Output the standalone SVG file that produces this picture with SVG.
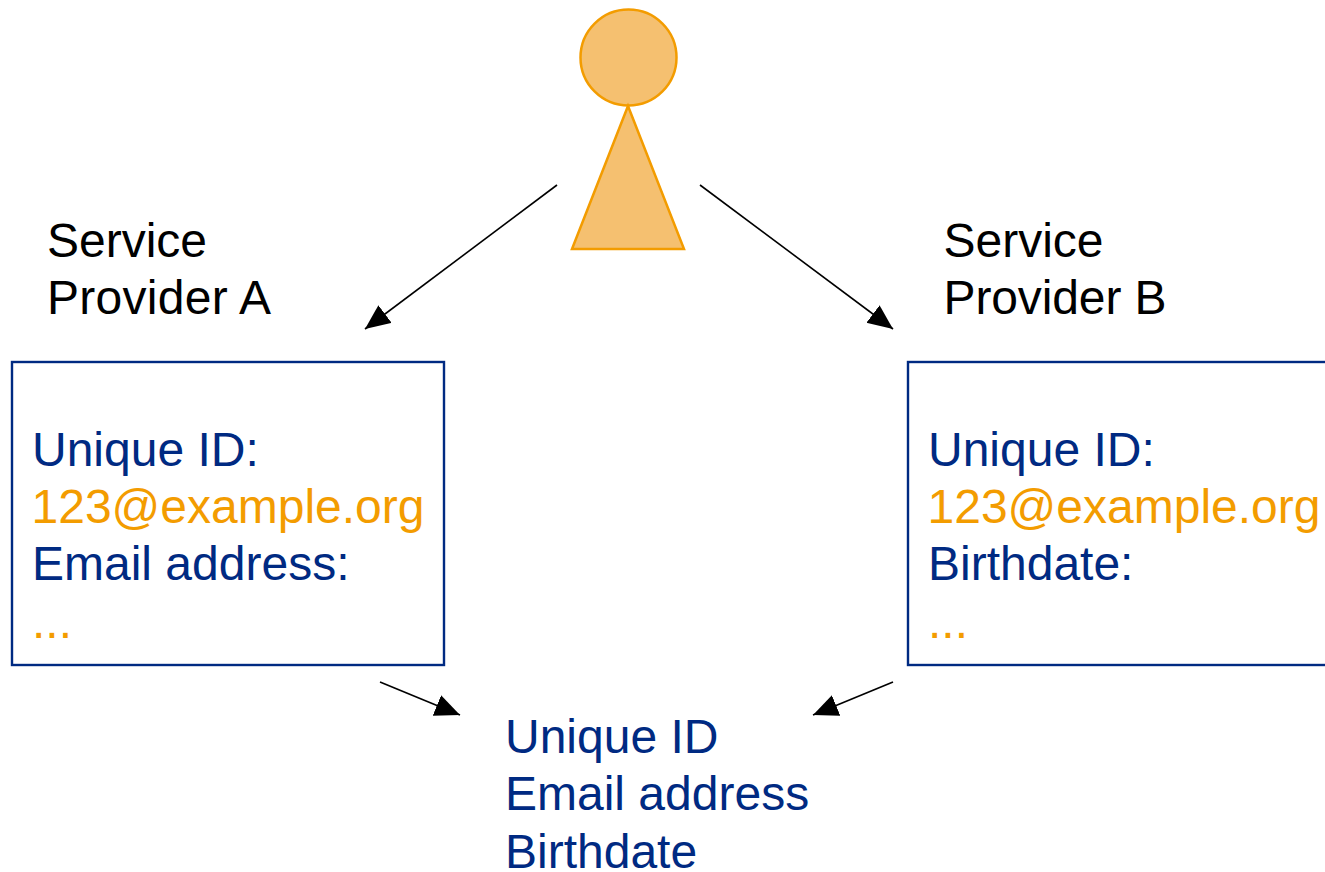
<svg xmlns="http://www.w3.org/2000/svg" width="1325" height="872" viewBox="0 0 1325 872">
<style>
text{font-family:"Liberation Sans",Arial,sans-serif;font-size:48px}
.k{fill:#000}.b{fill:#002a82}.o{fill:#f39c00}
.box{fill:#fff;stroke:#002a82;stroke-width:2.4}
.c{stroke:#000;stroke-width:1.6;fill:none;marker-end:url(#a)}
</style>
<defs><marker id="a" markerUnits="userSpaceOnUse" markerWidth="26" markerHeight="24" refX="25" refY="11" orient="auto"><path d="M0 0L25 11L0 22Z" fill="#000"/></marker></defs>
<rect width="1325" height="872" fill="#fff"/>
<g id="user"><circle cx="628.500" cy="57.500" r="48" fill="#f5c070" stroke="#f39c00" stroke-width="2.500"/><path d="M628 106L684 249H572Z" fill="#f5c070" stroke="#f39c00" stroke-width="2.500"/></g>
<g id="connectors">
<path class="c" d="M557 185L365 329"/><path class="c" d="M700 185L893 329"/><path class="c" d="M380 682L460 715"/><path class="c" d="M893 682L813 715"/>
</g>
<g id="label-a"><text class="k" x="47" y="257">Service</text><text class="k" x="47" y="314" textLength="224">Provider A</text></g>
<g id="label-b"><text class="k" x="943.500" y="257">Service</text><text class="k" x="943.500" y="314" textLength="223">Provider B</text></g>
<g id="box-a"><rect class="box" x="12" y="362" width="432" height="303"/><text class="b" x="32" y="465.500">Unique ID:</text><text class="o" x="31.500" y="522.500">123@example.org</text><text class="b" x="32" y="580">Email address:</text><text class="o" x="32" y="637.500">...</text></g>
<g id="box-b"><rect class="box" x="908" y="362" width="432" height="303"/><text class="b" x="928" y="465.500">Unique ID:</text><text class="o" x="927.500" y="522.500">123@example.org</text><text class="b" x="928" y="580">Birthdate:</text><text class="o" x="928" y="637.500">...</text></g>
<g id="merged"><text class="b" x="505" y="752.500">Unique ID</text><text class="b" x="505" y="810">Email address</text><text class="b" x="505" y="868">Birthdate</text></g>
</svg>
